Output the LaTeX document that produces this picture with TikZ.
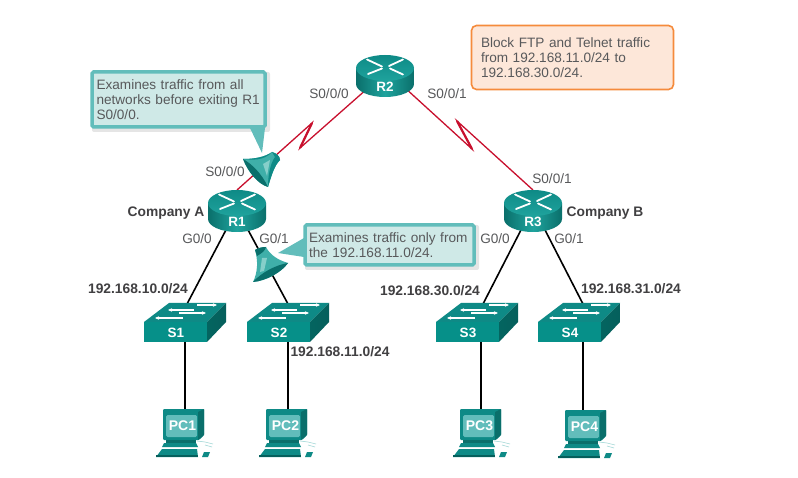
\documentclass[tikz,border=0pt]{standalone}
\usepackage{fontspec}
\setmainfont{Liberation Sans}
\usetikzlibrary{arrows.meta}
\pgfdeclarelayer{wires}
\pgfsetlayers{wires,main}
\definecolor{txt}{HTML}{58595B}
\definecolor{txtb}{HTML}{414042}
\definecolor{serialred}{HTML}{C8102E}
\definecolor{tealA}{HTML}{0A6F6B}
\definecolor{tealB}{HTML}{1FA39D}
\definecolor{tealC}{HTML}{0E8A86}
\definecolor{tealD}{HTML}{069089}
\definecolor{tealE}{HTML}{055F5C}
\definecolor{tealF}{HTML}{62BDBB}
\definecolor{tealG}{HTML}{86CFCA}
\definecolor{tealH}{HTML}{3FAFA9}
\definecolor{callfill}{HTML}{CFE9E7}
\definecolor{orangeln}{HTML}{F58B3C}
\definecolor{orangefl}{HTML}{FDE7D9}
\tikzset{
  port/.style={font=\fontsize{13.6}{15}\selectfont,text=txt,inner sep=0pt},
  boldlbl/.style={font=\fontsize{13.8}{15}\selectfont\bfseries,text=txtb,inner sep=0pt},
  devlbl/.style={font=\fontsize{13.5}{15}\selectfont\bfseries,text=white,inner sep=0pt},
  pclbl/.style={font=\fontsize{14}{15}\selectfont\bfseries,text=white,inner sep=0pt},
  serial/.style={draw=serialred,line width=1.3pt,line join=miter},
  zigzag/.style={draw=serialred,line width=2.2pt,line cap=butt},
  lan/.style={draw=black,line width=1.6pt},
  callout/.style={draw=tealF,fill=callfill,line width=3.5pt,rounded corners=1.5pt,
    font=\fontsize{13.6}{15}\selectfont,text=txt,align=left,inner sep=0pt,anchor=center},
  shadowbox/.style={fill=black,opacity=.10,rounded corners=2pt},
  note/.style={draw=orangeln,fill=orangefl,line width=1.6pt,rounded corners=5pt,
    font=\fontsize{13.6}{15}\selectfont,text=txt,align=left,inner sep=0pt},
  xbar/.style={draw=white,line width=1.8pt,line cap=round},
  swbar/.style={draw=white,line width=1.1pt,-{Stealth[length=4pt,width=3.5pt]}},
}
% router: centre x, top-ellipse centre y
\newcommand{\routerdev}[3]{%
  \begin{scope}[shift={(#2,#3)}]
    \shade[left color=tealA,right color=tealA,middle color=tealB]
      (-29,0) -- (-29,16) arc[start angle=180,end angle=360,x radius=29pt,y radius=13pt] -- (29,0) -- cycle;
    \shade[top color=tealC,bottom color=tealB] (0,0) ellipse[x radius=29pt,y radius=13pt];
    \draw[xbar] (-18,-8.5) -- (-3,-1.5);
    \draw[xbar] (18,-8.5) -- (4,-2);
    \draw[xbar] (-17,6) -- (-3,.5);
    \draw[xbar] (18,6.5) -- (5,.5);
    \node[devlbl] (#1) at (0,19) {#1};
  \end{scope}}
% switch: front-top-left corner
\newcommand{\switchdev}[3]{%
  \begin{scope}[shift={(#2,#3)}]
    \fill[tealC] (0,0) -- (63,0) -- (82,-19) -- (25,-19) -- cycle;
    \fill[tealD] (0,0) rectangle (63,20);
    \shade[left color=tealD!70!black,right color=tealE] (63,0) -- (82,-19) -- (82,0) -- (63,20) -- cycle;
    \draw[swbar] (53,-17) -- (73,-17);
    \draw[swbar] (50,-12) -- (24,-12);
    \draw[swbar] (35,-9) -- (62,-9);
    \draw[swbar] (39,-4) -- (11,-4);
    \node[devlbl] (#1) at (32,11) {#1};
  \end{scope}}
% pc: monitor top-left corner
\newcommand{\pcdev}[3]{%
  \begin{scope}[shift={(#2,#3)}]
    \fill[tealC,rounded corners=1pt] (0,0) -- (41,0) -- (41,26) -- (36,31) -- (0,31) -- cycle;
    \fill[tealA] (35,3) -- (41,0) -- (41,26) -- (35,31) -- cycle;
    \fill[tealF,rounded corners=1.5pt] (3,6) rectangle (34,28);
    \fill[tealA] (3,31) -- (33,31) -- (33,34) -- (3,34) -- cycle;
    \fill[tealC] (1,34) -- (33,34) -- (35,38) -- (-1,38) -- cycle;
    \fill[tealC] (-1,40) -- (34,40) -- (35,48) -- (-7,48) -- cycle;
    \fill[tealE] (-7,46) -- (35,46) -- (35,48) -- (-7,48) -- cycle;
    \fill[tealC] (41,43) -- (47,43) -- (45,48) -- (39,48) -- cycle;
    \draw[tealF!60!white,line width=.6pt] (34,32) -- (42,33) -- (50,35) (42,36) -- (49,38);
    \node[pclbl] (#1) at (19.5,17) {#1};
  \end{scope}}
\begin{document}
\begin{tikzpicture}[x=1pt,y=-1pt]
\begin{pgfonlayer}{wires}
  \fill[white] (0,0) rectangle (798,478);
\end{pgfonlayer}
\useasboundingbox (0,0) rectangle (798,478);

% devices
\routerdev{R2}{385}{68}
\routerdev{R1}{237}{203}
\routerdev{R3}{533}{203}
\switchdev{S1}{144}{322}
\switchdev{S2}{247}{322}
\switchdev{S3}{436}{322}
\switchdev{S4}{538}{322}
\pcdev{PC1}{163}{409}
\pcdev{PC2}{266}{409}
\pcdev{PC3}{460}{409}
\pcdev{PC4}{565}{410}

% connector ports and zigzag corners
\coordinate (R2w) at (368,88);
\coordinate (R2e) at (404,87);
\coordinate (zA) at (300,148);
\coordinate (zB) at (312,123);
\coordinate (zC) at (472,149);
\coordinate (zD) at (457,121);
\coordinate (R1n) at (237,190);
\coordinate (R3n) at (533,190);
\coordinate (R1a) at (227,228);
\coordinate (R1b) at (247,228);
\coordinate (R3a) at (522,228);
\coordinate (R3b) at (544,228);
\coordinate (S1n) at (187,304);
\coordinate (S2n) at (288,304);
\coordinate (S3n) at (483,304);
\coordinate (S4n) at (583,304);
\coordinate (S1s) at (185,340);
\coordinate (S2s) at (288,340);
\coordinate (S3s) at (481,340);
\coordinate (S4s) at (583,340);
\coordinate (PC1n) at (185,412);
\coordinate (PC2n) at (288,412);
\coordinate (PC3n) at (481,412);
\coordinate (PC4n) at (583,412);

\begin{pgfonlayer}{wires}
  \draw[serial] (R2w) -- (zA) -- (zB) -- (R1n);
  \draw[serial] (R2e) -- (zC) -- (zD) -- (R3n);
  \draw[zigzag] (zA) -- (zB);
  \draw[zigzag] (zC) -- (zD);
  \draw[lan] (R1a) -- (S1n);
  \draw[lan] (R1b) -- (S2n);
  \draw[lan] (R3a) -- (S3n);
  \draw[lan] (R3b) -- (S4n);
  \draw[lan] (S1s) -- (PC1n);
  \draw[lan] (S2s) -- (PC2n);
  \draw[lan] (S3s) -- (PC3n);
  \draw[lan] (S4s) -- (PC4n);
\end{pgfonlayer}

% ACL cone on the serial link
\fill[tealH]
  (243,159) .. controls (255,159) and (265,157) .. (272,152)
  .. controls (276,153) and (280,156) .. (280,160)
  .. controls (274,166) and (271,177) .. (268,187)
  .. controls (258,184) and (248,172) .. (243,159) -- cycle;
\fill[tealC]
  (272,152) .. controls (276,153) and (280,156) .. (280,160)
  .. controls (274,166) and (271,177) .. (268,187)
  .. controls (268,176) and (270,164) .. (275,157) -- cycle;
\fill[tealG] (263,164) -- (270,160) -- (267,176) -- cycle;
\fill[tealC]
  (243,159) .. controls (255,159) and (265,157) .. (272,152)
  .. controls (264,161) and (252,160) .. (243,159) -- cycle;
\fill[tealA]
  (243,159) .. controls (252,164) and (262,174) .. (268,187)
  .. controls (258,184) and (248,172) .. (243,159) -- cycle;
% ACL cone on the LAN link
\fill[tealH]
  (255,250) .. controls (258,248) and (262,247) .. (266,247)
  .. controls (270,255) and (278,260) .. (288,263)
  .. controls (282,272) and (266,281) .. (253,282)
  .. controls (258,272) and (258,260) .. (255,250) -- cycle;
\fill[tealA]
  (255,250) .. controls (258,248) and (262,247) .. (266,247)
  .. controls (265,251) and (262,253) .. (257,256) -- cycle;
\fill[tealG] (262,258) -- (267,258) -- (264,271) -- (260,272) -- cycle;
\fill[tealA]
  (288,263) .. controls (276,265) and (262,272) .. (253,282)
  .. controls (266,281) and (282,272) .. (288,263) -- cycle;

% callouts
\fill[shadowbox] (92,72) rectangle (270,132);
\fill[shadowbox] (305,225) rectangle (479,270);
\fill[tealF] (250,128) -- (262,153) -- (265,128) -- cycle;
\fill[tealF] (304,238) -- (278,253) -- (304,257) -- cycle;
\node[callout,minimum width=173pt,minimum height=55pt,text width=164pt] (noteA) at (178.5,99.5)
  {Examines traffic from all\\networks before exiting R1\\S0/0/0.};
\node[callout,minimum width=169pt,minimum height=40pt,text width=161pt] (noteB) at (389.5,245)
  {Examines traffic only from\\the 192.168.11.0/24.};
\node[note,minimum width=202pt,minimum height=64pt,text width=183pt] (noteC) at (572.5,57.5)
  {Block FTP and Telnet traffic\\from 192.168.11.0/24 to\\192.168.30.0/24.};

% labels
\node[port] (l1) at (329,94) {S0/0/0};
\node[port] (l2) at (447,94) {S0/0/1};
\node[port] (l3) at (225,172) {S0/0/0};
\node[port] (l4) at (552,179) {S0/0/1};
\node[port] (l5) at (197,239) {G0/0};
\node[port] (l6) at (274,239) {G0/1};
\node[port] (l7) at (495,239) {G0/0};
\node[port] (l8) at (569,239) {G0/1};
\node[boldlbl] (c1) at (166,213) {Company A};
\node[boldlbl] (c2) at (605,213) {Company B};
\node[boldlbl] (n1) at (138,289) {192.168.10.0/24};
\node[boldlbl] (n2) at (340,352) {192.168.11.0/24};
\node[boldlbl] (n3) at (430,291) {192.168.30.0/24};
\node[boldlbl] (n4) at (631,289) {192.168.31.0/24};
\end{tikzpicture}
\end{document}
